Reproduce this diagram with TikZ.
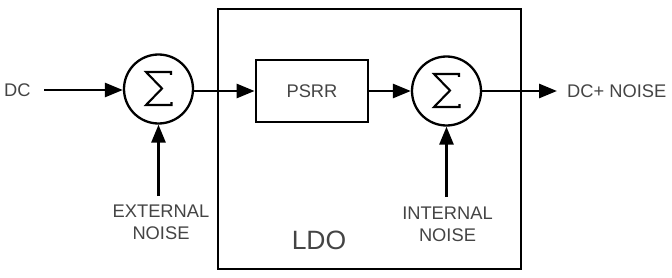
\documentclass[tikz,border=0pt]{standalone}
\usepackage{fontspec}
\setmainfont{Liberation Sans}
\usetikzlibrary{arrows.meta,calc}
\definecolor{txt}{HTML}{444444}
\tikzset{
  wire/.style={line width=2.8pt,-{Triangle[length=18pt,width=14pt]}},
  sumnode/.style={circle,draw,line width=2.3pt,minimum size=69pt,inner sep=0pt},
  blk/.style={draw,line width=2.8pt,minimum width=112pt,minimum height=62pt,inner sep=0pt},
  lbl/.style={text=txt,font=\fontsize{18.3}{21}\selectfont,inner sep=0pt},
  biglbl/.style={text=txt,font=\fontsize{26.5}{30}\selectfont,inner sep=0pt},
  sigma/.style={line width=2.1pt,line join=miter}
}
\begin{document}
\begin{tikzpicture}[x=1pt,y=-1pt]
\useasboundingbox (0,0) rectangle (672,278);
% LDO frame
\node[draw,line width=2.8pt,minimum width=303pt,minimum height=260pt,inner sep=0pt] (ldo) at (369.5,139) {};
\node[biglbl] (ldolbl) at (319,240) {LDO};
% nodes
\node[lbl,anchor=west] (dc) at (4,90) {DC};
\coordinate (dcend) at (44,90);
\node[sumnode] (s1) at (158.5,89) {};
\draw[sigma] ($(s1)+(12.5,-14)$) -- ++(0,-3) -- ++(-25,0) -- ++(16,16.5) -- ++(-16,16.5) -- ++(25.5,0) -- ++(0,-3);
\node[blk] (psrr) at (312,91) {};
\node[lbl] (psrrlbl) at (312,91) {PSRR};
\node[sumnode] (s2) at (446.5,91) {};
\draw[sigma] ($(s2)+(12.5,-14)$) -- ++(0,-3) -- ++(-25,0) -- ++(16,16.5) -- ++(-16,16.5) -- ++(25.5,0) -- ++(0,-3);
\coordinate (outend) at (557,91);
\node[lbl,anchor=west] (out) at (567,91) {DC+ NOISE};
\coordinate (ext) at (158.5,196);
\node[lbl] (ext1) at (161,211) {EXTERNAL};
\node[lbl] (ext2) at (161,233) {NOISE};
\coordinate (int) at (446.5,197);
\node[lbl] (int1) at (447.5,213) {INTERNAL};
\node[lbl] (int2) at (447.5,235) {NOISE};
% connectors
\draw[wire] (dcend) -- (s1.west |- dcend);
\draw[wire] (s1.east |- psrr.west) -- (psrr.west);
\draw[wire] (psrr.east) -- (s2.west);
\draw[wire] (s2.east) -- (outend);
\draw[wire] (ext) -- (s1.south);
\draw[wire] (int) -- (s2.south);
\end{tikzpicture}
\end{document}
